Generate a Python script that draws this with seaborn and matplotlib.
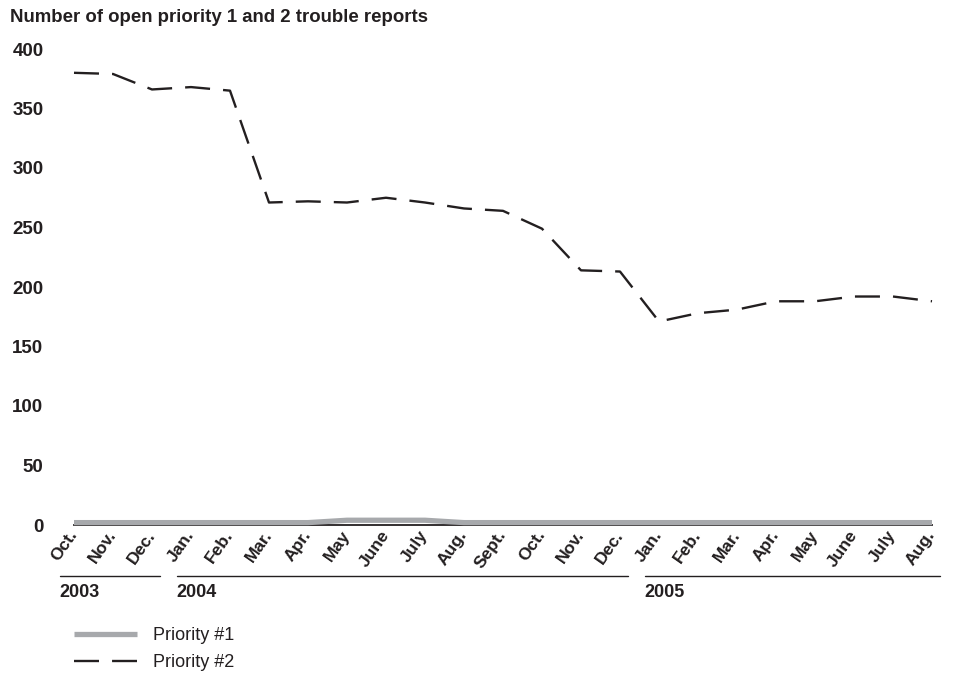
import matplotlib
matplotlib.use("Agg")
import matplotlib.pyplot as plt
from matplotlib.lines import Line2D
import seaborn as sns
import pandas as pd

months = ["Oct.", "Nov.", "Dec.", "Jan.", "Feb.", "Mar.", "Apr.", "May", "June",
          "July", "Aug.", "Sept.", "Oct.", "Nov.", "Dec.", "Jan.", "Feb.", "Mar.",
          "Apr.", "May", "June", "July", "Aug."]
years = [2003] * 3 + [2004] * 12 + [2005] * 8
priority1 = [2, 2, 2, 2, 2, 2, 2, 4, 4, 4, 2, 2, 2, 2, 2, 2, 2, 2, 2, 2, 2, 2, 2]
priority2 = [380, 379, 366, 368, 365, 271, 272, 271, 275, 271, 266, 264, 249,
             214, 213, 171, 178, 181, 188, 188, 192, 192, 188]
yticks = [0, 50, 100, 150, 200, 250, 300, 350, 400]

n = len(months)
idx = list(range(n))
df = pd.DataFrame({
    "idx": idx * 2,
    "value": priority1 + priority2,
    "series": ["Priority #1"] * n + ["Priority #2"] * n,
})

sns.set_theme(style="white")
plt.rcParams["font.family"] = ["Liberation Sans", "DejaVu Sans"]
plt.rcParams["lines.scale_dashes"] = False

INK = "#231f20"
GRAY = "#a7a9ac"

fig = plt.figure(figsize=(9.56, 6.73), dpi=100)
ax = fig.add_axes([74 / 956, 148 / 673, 858 / 956, 476 / 673])

sns.lineplot(data=df[df.series == "Priority #1"], x="idx", y="value",
             color=GRAY, lw=3.8, ax=ax, clip_on=False,
             solid_capstyle="butt", zorder=3)
sns.lineplot(data=df[df.series == "Priority #2"], x="idx", y="value",
             color=INK, lw=1.7, ax=ax, clip_on=False,
             dashes=(18, 9.4), zorder=4)

ax.set_xlim(0, n - 1)
ax.set_ylim(0, 400)
ax.set_xlabel("")
ax.set_ylabel("")
for s in ["top", "right", "left"]:
    ax.spines[s].set_visible(False)
ax.spines["bottom"].set_color(INK)
ax.spines["bottom"].set_linewidth(1.3)
ax.spines["bottom"].set_zorder(2)

ax.set_yticks(yticks)
ax.set_yticklabels([str(v) for v in yticks], fontsize=13.5, fontweight="bold",
                   color=INK)
ax.tick_params(axis="y", length=0, pad=22)

ax.set_xticks(idx)
ax.set_xticklabels(months, fontsize=12.5, fontweight="bold", color=INK)
ax.tick_params(axis="x", length=0, pad=5)
for lab in ax.get_xticklabels():
    lab.set_rotation(55)
    lab.set_rotation_mode("anchor")
    lab.set_horizontalalignment("right")
    lab.set_verticalalignment("center")

# year brackets under the month labels
trans = ax.get_xaxis_transform()
for yr in [2003, 2004, 2005]:
    pos = [i for i, y in enumerate(years) if y == yr]
    x0, x1 = pos[0] - 0.37, pos[-1] + 0.2
    ax.add_line(Line2D([x0, x1], [-0.107, -0.107], transform=trans,
                       color=INK, lw=1.0, clip_on=False))
    ax.text(x0, -0.124, str(yr), transform=trans, ha="left", va="top",
            fontsize=13, fontweight="bold", color=INK)

fig.text(10 / 956, 1 - 18 / 673, "Number of open priority 1 and 2 trouble reports",
         ha="left", va="center", fontsize=13.4, fontweight="bold", color=INK)

handles = [Line2D([], [], color=GRAY, lw=3.8, solid_capstyle="butt"),
           Line2D([], [], color=INK, lw=1.7, dashes=(18, 9.4))]
fig.legend(handles, ["Priority #1", "Priority #2"], loc="upper left",
           bbox_to_anchor=(74 / 956, 1 - 627 / 673), frameon=False,
           fontsize=13, handlelength=3.5, handletextpad=0.85, labelspacing=0.58,
           borderaxespad=0, borderpad=0, labelcolor=INK)

fig.savefig("out.png", dpi=100)
